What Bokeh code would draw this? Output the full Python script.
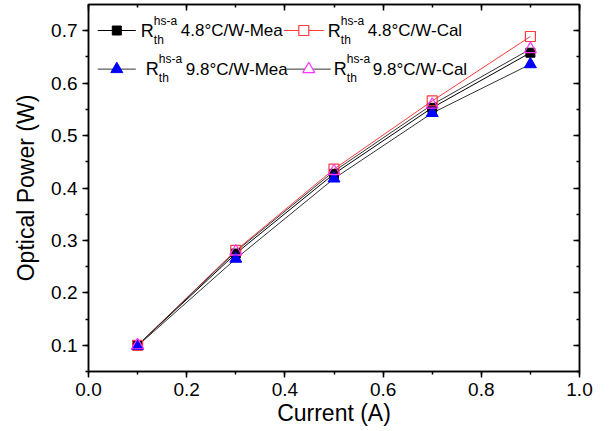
from bokeh.plotting import figure
from bokeh.models import Range1d, LinearAxis, SingleIntervalTicker, PrintfTickFormatter, CustomJSTickFormatter
from bokeh.core.properties import value
from bokeh.embed import file_html
from bokeh.resources import INLINE

# ---- data ----
current = [0.1, 0.3, 0.5, 0.7, 0.9]
mea_48 = [0.100, 0.275, 0.427, 0.553, 0.658]
cal_48 = [0.100, 0.281, 0.436, 0.566, 0.689]
mea_98 = [0.099, 0.265, 0.418, 0.543, 0.636]
cal_98 = [0.100, 0.279, 0.432, 0.559, 0.665]
legend_main = ["R", "R", "R", "R"]
legend_sup = ["hs-a", "hs-a", "hs-a", "hs-a"]
legend_sub = ["th", "th", "th", "th"]
legend_rest = ["4.8°C/W-Mea", "4.8°C/W-Cal", "9.8°C/W-Mea", "9.8°C/W-Cal"]
x_title = "Current (A)"
y_title = "Optical Power (W)"

FONT = "Liberation Sans"

p = figure(width=609, height=431, output_backend="svg", toolbar_location=None,
           x_range=Range1d(0, 1.0), y_range=Range1d(0.05, 0.75),
           min_border_left=88, min_border_right=30, min_border_top=4, min_border_bottom=60)
p.grid.visible = False
p.outline_line_color = "black"
p.outline_line_width = 1.5

xt = SingleIntervalTicker(interval=0.2, num_minor_ticks=2)
yt = SingleIntervalTicker(interval=0.1, num_minor_ticks=2)

for ax, t, lab in ((p.xaxis[0], xt, x_title), (p.yaxis[0], yt, y_title)):
    ax.ticker = t
    ax.formatter = PrintfTickFormatter(format="%.1f")
    ax.axis_label = lab
    ax.axis_label_text_font = FONT
    ax.axis_label_text_font_size = "23px"
    ax.axis_label_text_font_style = "normal"
    ax.axis_label_text_color = "black"
    ax.major_label_text_font = FONT
    ax.major_label_text_font_size = "19px"
    ax.major_label_text_color = "black"
    ax.axis_line_width = 1.5
    ax.axis_line_color = "black"
    ax.major_tick_in = 0
    ax.major_tick_out = 6
    ax.minor_tick_in = 0
    ax.minor_tick_out = 3
    ax.major_tick_line_width = 1.5
    ax.minor_tick_line_width = 1.5
    ax.major_label_standoff = 5
    ax.axis_label_standoff = 1

p.yaxis[0].axis_label_standoff = 9

for t, side in ((SingleIntervalTicker(interval=0.2, num_minor_ticks=2), "above"),
                (SingleIntervalTicker(interval=0.1, num_minor_ticks=2), "right")):
    ax = LinearAxis(ticker=t, formatter=CustomJSTickFormatter(code="return ''"),
                    major_label_standoff=0,
                    major_tick_in=6, major_tick_out=0, minor_tick_in=3, minor_tick_out=0,
                    axis_line_width=1.5, major_tick_line_width=1.5, minor_tick_line_width=1.5)
    p.add_layout(ax, side)

RED = "#ff3b3b"
MAG = "#ff33ff"

# series
p.line(current, mea_48, line_color="black", line_width=1)
p.line(current, cal_48, line_color=RED, line_width=1)
p.line(current, mea_98, line_color="#333333", line_width=1)
p.line(current, cal_98, line_color="#333333", line_width=1)
p.scatter(current, mea_48, marker="square", size=9, fill_color="black", line_color="black")
p.scatter(current, cal_48, marker="square", size=10, fill_color="white", fill_alpha=0, line_color=RED, line_width=1.2)
p.scatter(current, mea_98, marker="triangle", size=12, fill_color="#0000ff", line_color="#0000ff")
p.scatter(current, cal_98, marker="triangle", size=12, fill_color="white", fill_alpha=0, line_color=MAG, line_width=1.2)

# ---- manual legend (layout in pixels, converted to data units) ----
def px2x(px):
    return (px - 87.7) / 491.0

def px2y(py):
    return 0.7 - (py - 30.0) / 524.0

rows = [29.8, 68.4]
entries = [
    # line x0, line x1, marker x, R x, sup x, text x, row, line colour, marker, fill, marker colour
    (97, 135, 116, 140, 153, 180, 0, "black", "square", "black", "black"),
    (283, 323, 303, 327, 340, 367, 0, RED, "square", None, RED),
    (97, 135, 116, 145, 158, 185, 1, "#333333", "triangle", "#0000ff", "#0000ff"),
    (286, 330, 308, 333, 346, 372, 1, "#333333", "triangle", None, MAG),
]
for i, (l0, l1, mx, rx, sx, tx, r, lc, mk, fc, mc) in enumerate(entries):
    yy = rows[r]
    p.line([px2x(l0), px2x(l1)], [px2y(yy), px2y(yy)], line_color=lc, line_width=1)
    if fc is None:
        p.scatter([px2x(mx)], [px2y(yy)], marker=mk, size=12 if mk == "triangle" else 10,
                  fill_color="white", line_color=mc, line_width=1.2)
    else:
        p.scatter([px2x(mx)], [px2y(yy)], marker=mk, size=12 if mk == "triangle" else 9,
                  fill_color=fc, line_color=mc)
    p.text([px2x(rx)], [px2y(yy)], text=[legend_main[i]], text_font=value(FONT),
           text_font_size="18px", text_baseline="middle", text_align="left", text_color="black")
    p.text([px2x(sx)], [px2y(yy - 10)], text=[legend_sup[i]], text_font=value(FONT),
           text_font_size="12px", text_baseline="middle", text_align="left", text_color="black")
    p.text([px2x(sx)], [px2y(yy + 9)], text=[legend_sub[i]], text_font=value(FONT),
           text_font_size="12px", text_baseline="middle", text_align="left", text_color="black")
    p.text([px2x(tx)], [px2y(yy)], text=[legend_rest[i]], text_font=value(FONT),
           text_font_size="17px", text_baseline="middle", text_align="left", text_color="black")

open("out.html", "w").write(file_html(p, INLINE))
